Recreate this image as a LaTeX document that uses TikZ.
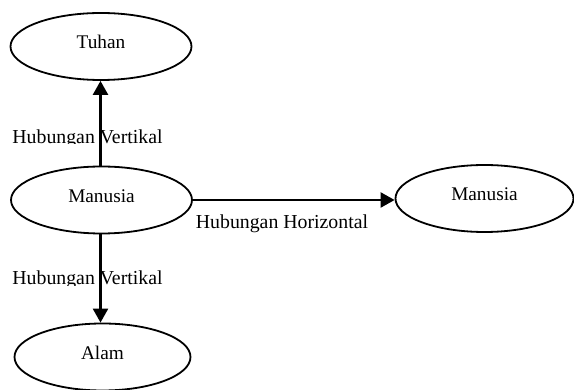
\documentclass[tikz,border=0pt]{standalone}
\usepackage{fontspec}
\setmainfont{Liberation Serif}
\usetikzlibrary{shapes.geometric,arrows.meta}
\begin{document}
\begin{tikzpicture}[x=1pt,y=-1pt,
  oval/.style={draw,ellipse,line width=1.8pt,minimum width=181pt,minimum height=67pt,inner sep=0pt,
    font=\fontsize{19.3}{21}\selectfont,text height=15pt,text depth=10pt},
  lbl/.style={anchor=base,inner sep=0pt,font=\fontsize{19.8}{21}\selectfont},
  arr/.style={line width=2.4pt,-{Triangle[length=14pt,width=15pt]}}]
\useasboundingbox (0,0) rectangle (574,390);
\node[oval] (t) at (101,46.5) {Tuhan};
\node[oval] (m) at (101.5,200) {Manusia};
\node[oval,minimum width=176pt] (a) at (102.5,357) {Alam};
\node[oval,minimum width=178pt] (r) at (484.5,198.5) {Manusia};
\begin{scope}
  \clip (0,120) rectangle (200,143.8);
  \node[lbl] (l1) at (87.5,143.3) {Hubungan Vertikal};
\end{scope}
\begin{scope}
  \clip (0,260) rectangle (200,285.5);
  \node[lbl] (l2) at (87.5,285) {Hubungan Vertikal};
\end{scope}
\node[lbl] (l3) at (282,228.3) {Hubungan Horizontal};
\draw[arr] (m.north -| 100.5,0) -- (t.south -| 100.5,0);
\draw[arr] (m.south -| 100.5,0) -- (a.north -| 100.5,0);
\draw[arr] (m.east) -- (m.east -| r.west);
\end{tikzpicture}
\end{document}
